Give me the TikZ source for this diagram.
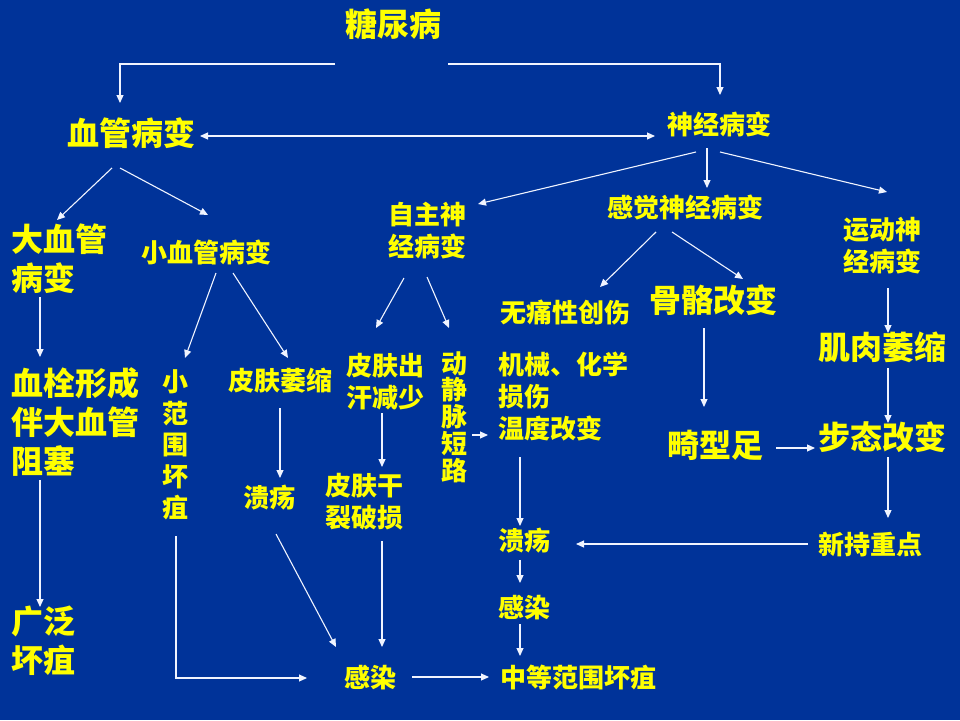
\documentclass[tikz,border=0pt]{standalone}
\usepackage{fontspec}
\newfontfamily\cjk{Noto Sans CJK SC}
\usetikzlibrary{arrows.meta}
\definecolor{bg}{RGB}{0,51,153}
\definecolor{ink}{RGB}{255,255,0}
\definecolor{wire}{RGB}{240,244,255}
\newcommand{\arrowlink}[5][--]{\draw[arr] ([shift={(#3)}]#2) #1 ([shift={(#5)}]#4);}
\tikzset{
  big/.style={font=\cjk\bfseries\fontsize{32}{39}\selectfont, text=ink, inner sep=0pt, align=left},
  small/.style={font=\cjk\bfseries\fontsize{26}{32}\selectfont, text=ink, inner sep=0pt, align=left},
  upright/.style={small, align=center, font=\cjk\bfseries\fontsize{26}{#1}\selectfont},
  arr/.style={draw=wire, line width=1.1pt, -{Triangle[length=8pt,width=7pt]}},
  arrboth/.style={arr, {Triangle[length=8pt,width=7pt]}-{Triangle[length=8pt,width=7pt]}}
}
\begin{document}
\begin{tikzpicture}[x=1pt,y=-1pt]
\fill[bg] (0,0) rectangle (960,720);
\node[big] (tnb) at (393,24) {糖尿病};
\node[big] (xg) at (131,133) {血管病变};
\node[small] (sj) at (719,124) {神经病变};
\node[big, anchor=west] (dxg) at (11,259) {大血管\\病变};
\node[small] (xxg) at (206,252) {小血管病变};
\node[small, align=center] (zz) at (427,231) {自主神\\经病变};
\node[small] (gj) at (685,207) {感觉神经病变};
\node[small, align=center] (yd) at (882,246) {运动神\\经病变};
\node[big, anchor=west] (xs) at (11,422) {血栓形成\\伴大血管\\阻塞};
\node[big, anchor=west] (gf) at (11,641) {广泛\\坏疽};
\node[upright=31.5] (xfw) at (175,445) {小\\范\\围\\坏\\疽};
\node[small] (pfws) at (280,381) {皮肤萎缩};
\node[small] (ky1) at (269,498) {溃疡};
\node[small] (pfcj) at (385,382) {皮肤出\\汗减少};
\node[upright=26.8] (djm) at (454,417) {动\\静\\脉\\短\\路};
\node[small] (pfgl) at (364,502) {皮肤干\\裂破损};
\node[small] (gr1) at (370,678) {感染};
\node[small] (zd) at (578,677) {中等范围坏疽};
\node[small] (wt) at (565,313) {无痛性创伤};
\node[big] (gg) at (713,300) {骨骼改变};
\node[small, anchor=west] (jx) at (498,397) {机械、化学\\损伤\\温度改变};
\node[small] (ky2) at (524,541) {溃疡};
\node[small] (gr2) at (524,608) {感染};
\node[big] (jxz) at (715,445) {畸型足};
\node[big] (jr) at (882,347) {肌肉萎缩};
\node[big] (bt) at (882,437) {步态改变};
\node[small] (xcz) at (870,545) {新持重点};
\arrowlink[-|]{tnb.center}{-58,40}{xg.center}{-11,-30}
\arrowlink[-|]{tnb.center}{55,40}{sj.center}{1,-29}
\draw[arrboth] ([shift={(69,3)}]xg.center) -- ([shift={(-64,12)}]sj.center);
\arrowlink{xg.center}{-19,35}{dxg.west}{46,-39}
\arrowlink{xg.center}{-11,35}{xxg.center}{2,-37}
\arrowlink{sj.center}{-23,28}{zz.center}{51,-27}
\arrowlink{sj.center}{-12,24}{gj.center}{22,-19}
\arrowlink{sj.center}{1,28}{yd.center}{5,-54}
\arrowlink{dxg.west}{29,38}{xs.west}{29,-65}
\arrowlink{xs.west}{29,58}{gf.west}{29,-34}
\arrowlink{xxg.center}{10,21}{xfw.center}{10,-87}
\arrowlink{xxg.center}{27,21}{pfws.center}{8,-23}
\arrowlink{pfws.center}{0,27}{ky1.center}{11,-20}
\arrowlink[|-]{xfw.center}{1,91}{gr1.center}{-63,0}
\arrowlink{ky1.center}{7,36}{gr1.center}{-34,-31}
\arrowlink{zz.center}{-23,47}{pfcj.center}{-9,-54}
\arrowlink{zz.center}{0,46}{djm.center}{-5,-89}
\arrowlink{pfcj.center}{-3,31}{pfgl.center}{18,-35}
\arrowlink{pfgl.center}{18,39}{gr1.center}{12,-31}
\arrowlink{djm.center}{18,18}{jx.west}{-10,38}
\arrowlink{gr1.center}{42,-1}{zd.center}{-89,0}
\arrowlink{gj.center}{-29,25}{wt.center}{35,-26}
\arrowlink{gj.center}{-13,25}{gg.center}{30,-21}
\arrowlink{jx.west}{22,60}{ky2.center}{-4,-15}
\arrowlink{ky2.center}{-4,19}{gr2.center}{-4,-25}
\arrowlink{gr2.center}{-4,16}{zd.center}{-58,-21}
\arrowlink{gg.center}{-9,28}{jxz.center}{-11,-38}
\arrowlink{jxz.center}{61,3}{bt.center}{-67,11}
\arrowlink{yd.center}{6,42}{jr.center}{6,-14}
\arrowlink{jr.center}{6,21}{bt.center}{6,-14}
\arrowlink{bt.center}{6,20}{xcz.center}{18,-27}
\arrowlink{xcz.center}{-62,-1}{ky2.center}{52,3}
\end{tikzpicture}
\end{document}
